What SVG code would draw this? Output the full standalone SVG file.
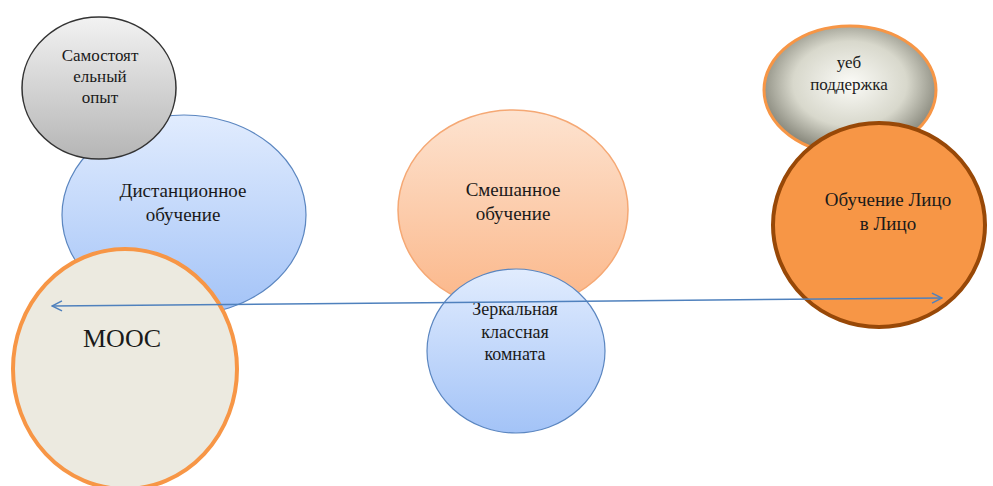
<svg xmlns="http://www.w3.org/2000/svg" width="993" height="486" viewBox="0 0 993 486">
<style>
text{font-family:'Liberation Serif','DejaVu Serif',serif;fill:#1a1a1a;text-anchor:middle}
.s14{font-size:17px}.s16{font-size:19px}.s15{font-size:18px}
.blue{fill:url(#gBlue);stroke:#5B86C0;stroke-width:1.2}
</style>
<defs>
<linearGradient id="gBlue" x1="0" y1="0" x2="0" y2="1"><stop offset="0" stop-color="#E1ECFE"/><stop offset="1" stop-color="#A3C3F7"/></linearGradient>
<linearGradient id="gGray" x1="0" y1="0" x2="0" y2="1"><stop offset="0" stop-color="#F2F2F2"/><stop offset="1" stop-color="#B5B5B5"/></linearGradient>
<linearGradient id="gPeach" x1="0" y1="0" x2="0" y2="1"><stop offset="0" stop-color="#FDE3D0"/><stop offset="1" stop-color="#FBB688"/></linearGradient>
<radialGradient id="gWeb" cx="0.5" cy="0.45" r="0.6"><stop offset="0" stop-color="#FBFBF7"/><stop offset="0.55" stop-color="#D8D8CC"/><stop offset="1" stop-color="#6E6E62"/></radialGradient>
<marker id="ah" viewBox="0 0 12 12" refX="11" refY="6" markerWidth="12" markerHeight="12" markerUnits="userSpaceOnUse" orient="auto-start-reverse"><path d="M1,1 L11,6 L1,11" fill="none" stroke="#4F81BD" stroke-width="1.5"/></marker>
</defs>
<g id="node-distance"><ellipse class="blue" cx="184" cy="215" rx="122" ry="100"/><text class="s16" x="183" y="197">Дистанционное</text><text class="s16" x="183" y="221">обучение</text></g>
<g id="node-self"><ellipse cx="99" cy="88" rx="77" ry="71" fill="url(#gGray)" stroke="#333" stroke-width="1.5"/><text class="s14" x="100" y="61">Самостоят</text><text class="s14" x="100" y="82">ельный</text><text class="s14" x="100" y="103">опыт</text></g>
<g id="node-mooc"><ellipse cx="125" cy="369" rx="112" ry="120" fill="#ECEAE0" stroke="#F79646" stroke-width="4"/><text x="122" y="347" style="font-size:26px">MOOC</text></g>
<g id="node-blended"><ellipse cx="513" cy="210" rx="115" ry="100" fill="url(#gPeach)" stroke="#F5A874" stroke-width="1.5"/><text class="s16" x="513" y="196">Смешанное</text><text class="s16" x="513" y="220">обучение</text></g>
<g id="node-flipped"><ellipse class="blue" cx="516" cy="351" rx="89" ry="82"/><text class="s15" x="515" y="315">Зеркальная</text><text class="s15" x="515" y="338">классная</text><text class="s15" x="515" y="360">комната</text></g>
<g id="node-web"><ellipse cx="850" cy="90" rx="86" ry="64" fill="url(#gWeb)" stroke="#F79646" stroke-width="3"/><text class="s14" x="849" y="68">уеб</text><text class="s14" x="849" y="90">поддержка</text></g>
<g id="node-face"><ellipse cx="879" cy="225" rx="106" ry="102" fill="#F79646" stroke="#984807" stroke-width="4"/><text class="s16" x="888" y="206">Обучение Лицо</text><text class="s16" x="888" y="230">в Лицо</text></g>
<g id="connectors"><line x1="52" y1="306" x2="942" y2="298" stroke="#4F81BD" stroke-width="1.5" marker-start="url(#ah)" marker-end="url(#ah)"/></g>
</svg>
